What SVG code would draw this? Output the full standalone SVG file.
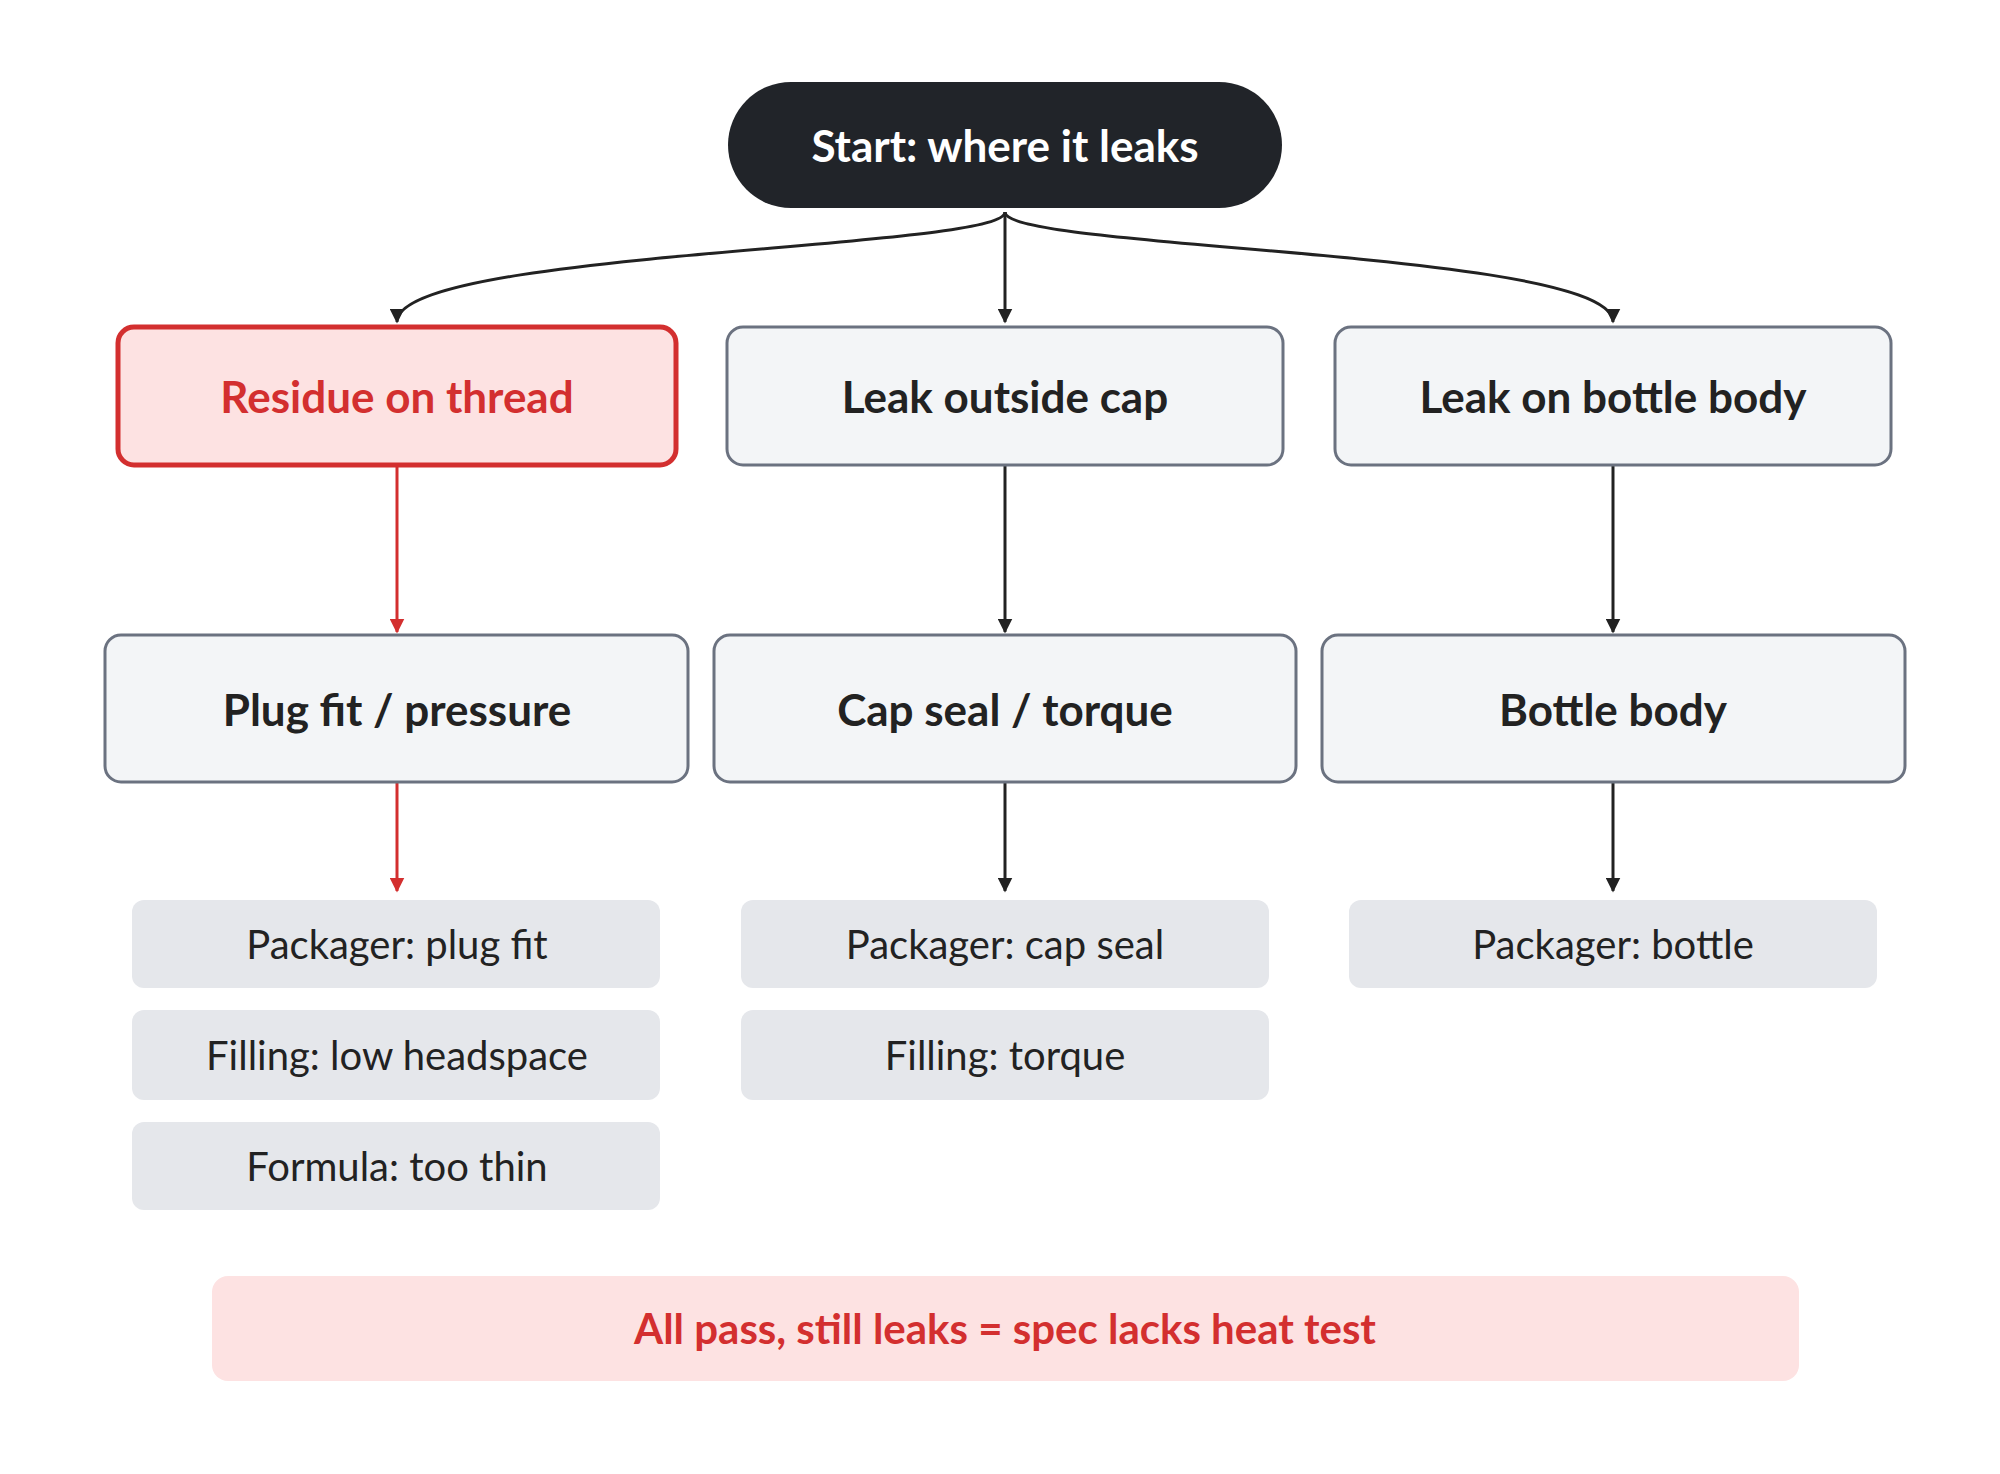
<svg xmlns="http://www.w3.org/2000/svg" width="2000" height="1474" viewBox="0 0 2000 1474">
<defs>
<marker id="ak" viewBox="0 0 10 10" refX="9" refY="5" markerWidth="5" markerHeight="5" orient="auto"><path d="M0,0L10,5L0,10z" fill="#222"/></marker>
<marker id="ar" viewBox="0 0 10 10" refX="9" refY="5" markerWidth="5" markerHeight="5" orient="auto"><path d="M0,0L10,5L0,10z" fill="#d32f2f"/></marker>
<style>
text{font-family:Lato,"Noto Sans",sans-serif;text-anchor:middle;dominant-baseline:central}
.n{fill:#f3f5f7;stroke:#6b7280;stroke-width:3}
.t{font-size:44px;font-weight:bold;fill:#222}
.l{fill:#e5e7eb}
.lt{font-size:40px;fill:#222}
.k{fill:none;stroke:#222;stroke-width:3}
.r{fill:none;stroke:#d32f2f;stroke-width:3}
</style>
</defs>
<rect width="2000" height="1474" fill="#fff"/>
<g id="connectors">
<path class="k" d="M1005,212 C1005,250 397,250 397,322" marker-end="url(#ak)"/>
<path class="k" d="M1005,212 L1005,322" marker-end="url(#ak)"/>
<path class="k" d="M1005,212 C1005,250 1613,250 1613,322" marker-end="url(#ak)"/>
<path class="r" d="M397,465 L397,632" marker-end="url(#ar)"/>
<path class="k" d="M1005,465 L1005,632" marker-end="url(#ak)"/>
<path class="k" d="M1613,465 L1613,632" marker-end="url(#ak)"/>
<path class="r" d="M397,782 L397,891" marker-end="url(#ar)"/>
<path class="k" d="M1005,782 L1005,891" marker-end="url(#ak)"/>
<path class="k" d="M1613,782 L1613,891" marker-end="url(#ak)"/>
</g>
<g id="start"><rect x="728" y="82" width="554" height="126" rx="63" fill="#212429"/><text x="1005" y="145" class="t" style="fill:#fff">Start: where it leaks</text></g>
<g id="residue"><rect x="118" y="327" width="558" height="138" rx="16" fill="#fde2e2" stroke="#d32f2f" stroke-width="5"/><text x="397" y="396" class="t" style="fill:#d32f2f">Residue on thread</text></g>
<g id="cap"><rect x="727" y="327" width="556" height="138" rx="16" class="n"/><text x="1005" y="396" class="t">Leak outside cap</text></g>
<g id="body"><rect x="1335" y="327" width="556" height="138" rx="16" class="n"/><text x="1613" y="396" class="t">Leak on bottle body</text></g>
<g id="plug"><rect x="105" y="635" width="583" height="147" rx="16" class="n"/><text x="397" y="709" class="t">Plug fit / pressure</text></g>
<g id="seal"><rect x="714" y="635" width="582" height="147" rx="16" class="n"/><text x="1005" y="709" class="t">Cap seal / torque</text></g>
<g id="bb"><rect x="1322" y="635" width="583" height="147" rx="16" class="n"/><text x="1613" y="709" class="t">Bottle body</text></g>
<g id="l1"><rect x="132" y="900" width="528" height="88" rx="12" class="l"/><text x="397" y="944" class="lt">Packager: plug fit</text></g>
<g id="l2"><rect x="132" y="1010" width="528" height="90" rx="12" class="l"/><text x="397" y="1055" class="lt">Filling: low headspace</text></g>
<g id="l3"><rect x="132" y="1122" width="528" height="88" rx="12" class="l"/><text x="397" y="1166" class="lt">Formula: too thin</text></g>
<g id="l4"><rect x="741" y="900" width="528" height="88" rx="12" class="l"/><text x="1005" y="944" class="lt">Packager: cap seal</text></g>
<g id="l5"><rect x="741" y="1010" width="528" height="90" rx="12" class="l"/><text x="1005" y="1055" class="lt">Filling: torque</text></g>
<g id="l6"><rect x="1349" y="900" width="528" height="88" rx="12" class="l"/><text x="1613" y="944" class="lt">Packager: bottle</text></g>
<g id="note"><rect x="212" y="1276" width="1587" height="105" rx="16" fill="#fde2e2"/><text x="1005" y="1328" class="t" style="fill:#d32f2f;font-size:42px">All pass, still leaks = spec lacks heat test</text></g>
</svg>
